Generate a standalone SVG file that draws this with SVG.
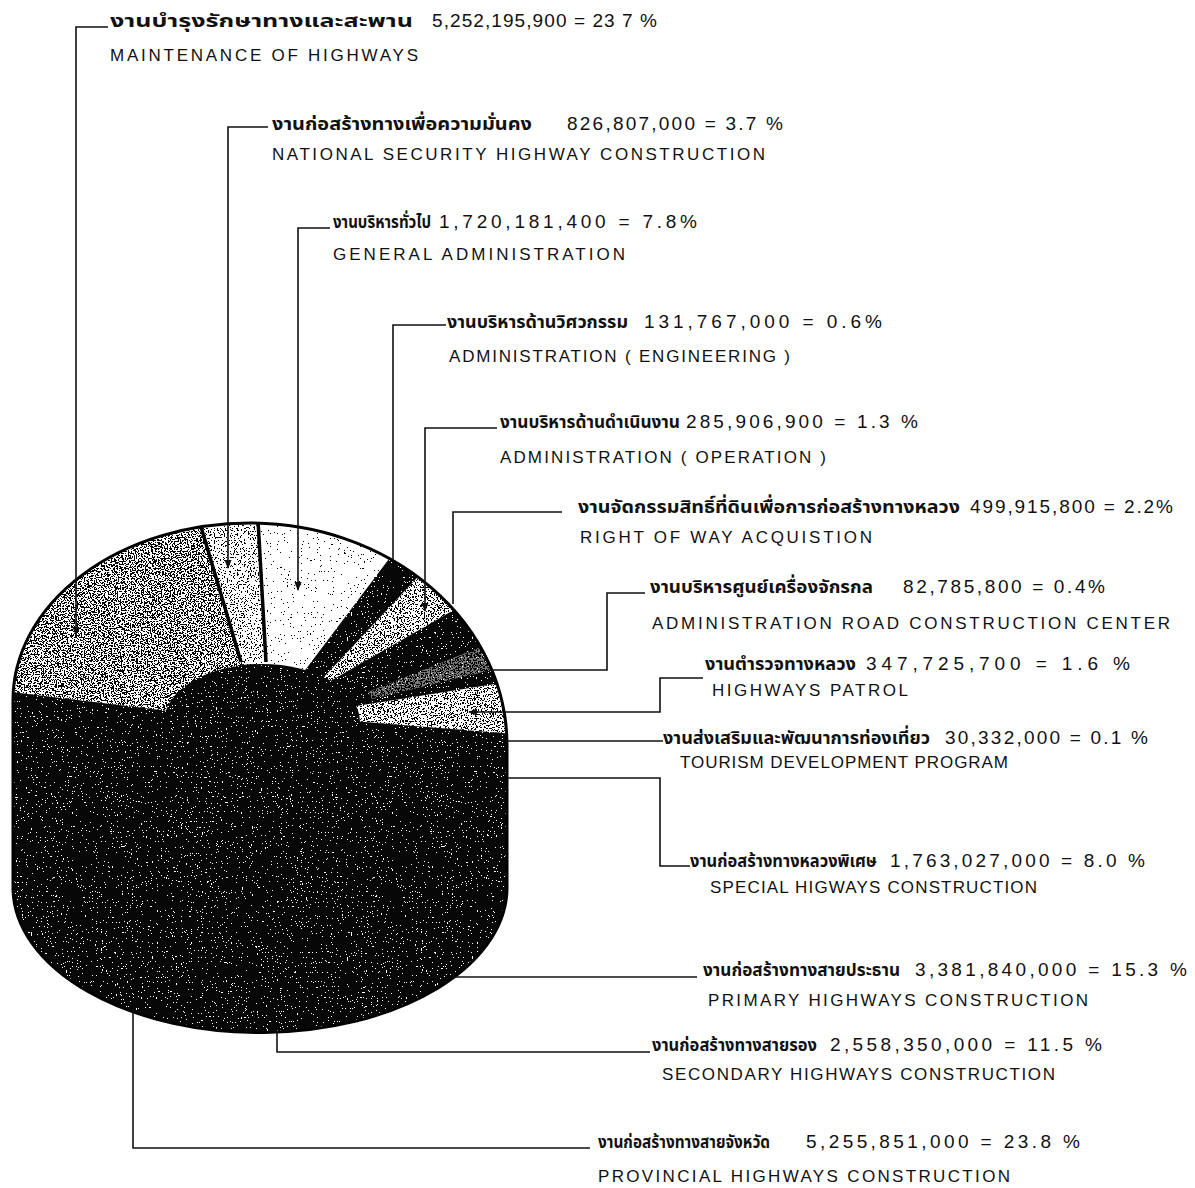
<svg xmlns="http://www.w3.org/2000/svg" width="1195" height="1188" viewBox="0 0 1195 1188">
  <style>
    .th { font-family: "Noto Sans Thai", "Noto Sans", "DejaVu Sans", sans-serif; font-size: 18px; font-weight: bold; fill: #111; }
    .num { font-family: "Liberation Sans", Arial, sans-serif; font-size: 19px; fill: #111; }
    .en { font-family: "Liberation Sans", Arial, sans-serif; font-size: 17px; fill: #111; }
    .lead { fill: none; stroke: #111; stroke-width: 1.6; }
    .sep { stroke: #000; stroke-width: 3.5; }
  </style>
  <defs>
    <!-- stipple screens: black dots of rising density, white specks for solid areas -->
    <filter id="dotsSparse" x="0" y="0" width="1" height="1" color-interpolation-filters="sRGB">
      <feTurbulence type="fractalNoise" baseFrequency="0.7" numOctaves="2" seed="3"/>
      <feColorMatrix type="matrix" values="0 0 0 0 0  0 0 0 0 0  0 0 0 0 0  -5 0 0 0 1.85"/>
      <feComponentTransfer><feFuncA type="discrete" tableValues="0 1"/></feComponentTransfer>
    </filter>
    <filter id="dotsLight" x="0" y="0" width="1" height="1" color-interpolation-filters="sRGB">
      <feTurbulence type="fractalNoise" baseFrequency="0.7" numOctaves="2" seed="5"/>
      <feColorMatrix type="matrix" values="0 0 0 0 0  0 0 0 0 0  0 0 0 0 0  -5 0 0 0 2.45"/>
      <feComponentTransfer><feFuncA type="discrete" tableValues="0 1"/></feComponentTransfer>
    </filter>
    <filter id="dotsMed" x="0" y="0" width="1" height="1" color-interpolation-filters="sRGB">
      <feTurbulence type="fractalNoise" baseFrequency="0.7" numOctaves="2" seed="9"/>
      <feColorMatrix type="matrix" values="0 0 0 0 0  0 0 0 0 0  0 0 0 0 0  -5 0 0 0 2.7"/>
      <feComponentTransfer><feFuncA type="discrete" tableValues="0 1"/></feComponentTransfer>
    </filter>
    <filter id="dotsHeavy" x="0" y="0" width="1" height="1" color-interpolation-filters="sRGB">
      <feTurbulence type="fractalNoise" baseFrequency="0.7" numOctaves="2" seed="11"/>
      <feColorMatrix type="matrix" values="0 0 0 0 0  0 0 0 0 0  0 0 0 0 0  -5 0 0 0 2.9"/>
      <feComponentTransfer><feFuncA type="discrete" tableValues="0 1"/></feComponentTransfer>
    </filter>
    <filter id="specks" x="0" y="0" width="1" height="1" color-interpolation-filters="sRGB">
      <feTurbulence type="fractalNoise" baseFrequency="0.8" numOctaves="2" seed="2"/>
      <feColorMatrix type="matrix" values="0 0 0 0 1  0 0 0 0 1  0 0 0 0 1  -5 0 0 0 1.95"/>
      <feComponentTransfer><feFuncA type="discrete" tableValues="0 1"/></feComponentTransfer>
    </filter>

    <path id="pieOutline" d="M13,700 A237,177 0 0 1 250,523 A257,222 0 0 1 507,745 L507,885 A247,145 0 0 1 13,890 Z"/>
    <clipPath id="clipPie"><use href="#pieOutline"/></clipPath>
    <clipPath id="clipMaint"><polygon points="260,722 -30,687 -30,470 183,470"/></clipPath>
    <clipPath id="clipSec"><polygon points="260,722 183,470 255,470 268,722"/></clipPath>
    <clipPath id="clipGen"><polygon points="268,722 255,470 456,470 266,722"/></clipPath>
    <clipPath id="clipOper"><polygon points="324,677 445,548 492,588 327,683"/></clipPath>
    <clipPath id="clipCenter"><polygon points="368,692 478,648 500,668 372,699"/></clipPath>
    <clipPath id="clipPatrol"><polygon points="350,707 495,684 515,684 515,734 502,733 352,721"/></clipPath>
    <clipPath id="clipHub"><ellipse cx="262" cy="722" rx="98" ry="58"/></clipPath>

    <marker id="arrow" viewBox="0 0 10 10" refX="9" refY="5" markerWidth="9" markerHeight="9" markerUnits="userSpaceOnUse" orient="auto">
      <path d="M0,1 L10,5 L0,9 Z" fill="#111"/>
    </marker>
  </defs>

  <rect width="1195" height="1188" fill="#fff"/>

  <!-- pie body: solid dark screen (provincial, secondary, primary, special and other dark slices) -->
  <g id="pie">
    <use href="#pieOutline" fill="#070707"/>
    <rect x="0" y="500" width="520" height="540" filter="url(#specks)" clip-path="url(#clipPie)"/>

    <g clip-path="url(#clipPie)">
      <g id="slice-maintenance" clip-path="url(#clipMaint)">
        <rect x="0" y="500" width="520" height="540" fill="#fff"/>
        <rect x="0" y="500" width="520" height="540" filter="url(#dotsHeavy)"/>
      </g>
      <g id="slice-security" clip-path="url(#clipSec)">
        <rect x="0" y="500" width="520" height="540" fill="#fff"/>
        <rect x="0" y="500" width="520" height="540" filter="url(#dotsLight)"/>
      </g>
      <g id="slice-general" clip-path="url(#clipGen)">
        <rect x="0" y="500" width="520" height="540" fill="#fff"/>
        <rect x="0" y="500" width="520" height="540" filter="url(#dotsSparse)"/>
      </g>
      <g id="slice-operation" clip-path="url(#clipOper)">
        <rect x="0" y="500" width="520" height="540" fill="#fff"/>
        <rect x="0" y="500" width="520" height="540" filter="url(#dotsMed)"/>
      </g>
      <g id="slice-roadcenter" clip-path="url(#clipCenter)" opacity="0.45">
        <rect x="0" y="500" width="520" height="540" fill="#fff"/>
        <rect x="0" y="500" width="520" height="540" filter="url(#dotsHeavy)"/>
      </g>
      <g id="slice-patrol" clip-path="url(#clipPatrol)">
        <rect x="0" y="500" width="520" height="540" fill="#fff"/>
        <rect x="0" y="500" width="520" height="540" filter="url(#dotsMed)"/>
      </g>
      <line class="sep" x1="241" y1="662" x2="199" y2="520"/>
      <line class="sep" x1="266" y1="662" x2="258" y2="520"/>
    </g>

    <!-- dark hub -->
    <g id="hub">
      <ellipse cx="262" cy="722" rx="98" ry="58" fill="#070707"/>
      <rect x="150" y="650" width="230" height="140" filter="url(#specks)" clip-path="url(#clipHub)"/>
    </g>

    <use href="#pieOutline" fill="none" stroke="#000" stroke-width="3"/>
  </g>

  <!-- leader lines -->
  <g id="connectors">
    <path class="lead" d="M108,27 H76 V635" marker-end="url(#arrow)"/>
    <path class="lead" d="M268,127 H228 V568" marker-end="url(#arrow)"/>
    <path class="lead" d="M330,228 H298 V590" marker-end="url(#arrow)"/>
    <path class="lead" d="M446,325 H393 V560"/>
    <path class="lead" d="M497,428 H425 V611" marker-end="url(#arrow)"/>
    <path class="lead" d="M562,512 H453 V604"/>
    <path class="lead" d="M645,593 H607 V670 H490"/>
    <path class="lead" d="M703,678 H660 V712 H469" marker-end="url(#arrow)"/>
    <path class="lead" d="M663,741 H506"/>
    <path class="lead" d="M690,866 H660 V778 H507"/>
    <path class="lead" d="M697,977 H452"/>
    <path class="lead" d="M650,1052 H277 V1031"/>
    <path class="lead" d="M590,1148 H133 V1010"/>
  </g>

  <!-- labels -->
  <g id="label-maintenance">
    <text class="th" x="110" y="27" textLength="303" lengthAdjust="spacingAndGlyphs">งานบำรุงรักษาทางและสะพาน</text>
    <text class="num" x="432" y="27" textLength="225" lengthAdjust="spacing">5,252,195,900 = 23 7 %</text>
    <text class="en" x="110" y="61" textLength="308" lengthAdjust="spacing">MAINTENANCE OF HIGHWAYS</text>
  </g>
  <g id="label-security">
    <text class="th" x="272" y="130" textLength="260" lengthAdjust="spacingAndGlyphs">งานก่อสร้างทางเพื่อความมั่นคง</text>
    <text class="num" x="567" y="130" textLength="216" lengthAdjust="spacing">826,807,000 = 3.7 %</text>
    <text class="en" x="272" y="160" textLength="493" lengthAdjust="spacing">NATIONAL SECURITY HIGHWAY CONSTRUCTION</text>
  </g>
  <g id="label-general">
    <text class="th" x="333" y="228" textLength="98" lengthAdjust="spacingAndGlyphs">งานบริหารทั่วไป</text>
    <text class="num" x="439" y="228" textLength="258" lengthAdjust="spacing">1,720,181,400 = 7.8%</text>
    <text class="en" x="333" y="260" textLength="292" lengthAdjust="spacing">GENERAL ADMINISTRATION</text>
  </g>
  <g id="label-engineering">
    <text class="th" x="447" y="328" textLength="181" lengthAdjust="spacingAndGlyphs">งานบริหารด้านวิศวกรรม</text>
    <text class="num" x="644" y="328" textLength="238" lengthAdjust="spacing">131,767,000 = 0.6%</text>
    <text class="en" x="449" y="362" textLength="341" lengthAdjust="spacing">ADMINISTRATION ( ENGINEERING )</text>
  </g>
  <g id="label-operation">
    <text class="th" x="500" y="428" textLength="180" lengthAdjust="spacingAndGlyphs">งานบริหารด้านดำเนินงาน</text>
    <text class="num" x="686" y="428" textLength="232" lengthAdjust="spacing">285,906,900 = 1.3 %</text>
    <text class="en" x="500" y="463" textLength="326" lengthAdjust="spacing">ADMINISTRATION ( OPERATION )</text>
  </g>
  <g id="label-rightofway">
    <text class="th" x="578" y="513" textLength="382" lengthAdjust="spacingAndGlyphs">งานจัดกรรมสิทธิ์ที่ดินเพื่อการก่อสร้างทางหลวง</text>
    <text class="num" x="970" y="513" textLength="203" lengthAdjust="spacing">499,915,800 = 2.2%</text>
    <text class="en" x="580" y="543" textLength="292" lengthAdjust="spacing">RIGHT OF WAY ACQUISTION</text>
  </g>
  <g id="label-roadcenter">
    <text class="th" x="650" y="593" textLength="223" lengthAdjust="spacingAndGlyphs">งานบริหารศูนย์เครื่องจักรกล</text>
    <text class="num" x="903" y="593" textLength="202" lengthAdjust="spacing">82,785,800 = 0.4%</text>
    <text class="en" x="652" y="629" textLength="518" lengthAdjust="spacing">ADMINISTRATION  ROAD  CONSTRUCTION  CENTER</text>
  </g>
  <g id="label-patrol">
    <text class="th" x="705" y="670" textLength="151" lengthAdjust="spacingAndGlyphs">งานตำรวจทางหลวง</text>
    <text class="num" x="866" y="670" textLength="264" lengthAdjust="spacing">347,725,700 = 1.6 %</text>
    <text class="en" x="712" y="696" textLength="196" lengthAdjust="spacing">HIGHWAYS  PATROL</text>
  </g>
  <g id="label-tourism">
    <text class="th" x="663" y="744" textLength="267" lengthAdjust="spacingAndGlyphs">งานส่งเสริมและพัฒนาการท่องเที่ยว</text>
    <text class="num" x="945" y="744" textLength="203" lengthAdjust="spacing">30,332,000 = 0.1 %</text>
    <text class="en" x="680" y="768" textLength="328" lengthAdjust="spacing">TOURISM  DEVELOPMENT  PROGRAM</text>
  </g>
  <g id="label-special">
    <text class="th" x="690" y="867" textLength="187" lengthAdjust="spacingAndGlyphs">งานก่อสร้างทางหลวงพิเศษ</text>
    <text class="num" x="890" y="867" textLength="255" lengthAdjust="spacing">1,763,027,000 = 8.0 %</text>
    <text class="en" x="710" y="893" textLength="327" lengthAdjust="spacing">SPECIAL  HIGWAYS  CONSTRUCTION</text>
  </g>
  <g id="label-primary">
    <text class="th" x="703" y="976" textLength="197" lengthAdjust="spacingAndGlyphs">งานก่อสร้างทางสายประธาน</text>
    <text class="num" x="915" y="976" textLength="272" lengthAdjust="spacing">3,381,840,000 = 15.3 %</text>
    <text class="en" x="708" y="1006" textLength="380" lengthAdjust="spacing">PRIMARY  HIGHWAYS  CONSTRUCTION</text>
  </g>
  <g id="label-secondary">
    <text class="th" x="652" y="1051" textLength="165" lengthAdjust="spacingAndGlyphs">งานก่อสร้างทางสายรอง</text>
    <text class="num" x="830" y="1051" textLength="272" lengthAdjust="spacing">2,558,350,000 = 11.5 %</text>
    <text class="en" x="662" y="1080" textLength="393" lengthAdjust="spacing">SECONDARY  HIGHWAYS  CONSTRUCTION</text>
  </g>
  <g id="label-provincial">
    <text class="th" x="598" y="1148" textLength="172" lengthAdjust="spacingAndGlyphs">งานก่อสร้างทางสายจังหวัด</text>
    <text class="num" x="806" y="1148" textLength="274" lengthAdjust="spacing">5,255,851,000 = 23.8 %</text>
    <text class="en" x="598" y="1182" textLength="412" lengthAdjust="spacing">PROVINCIAL  HIGHWAYS  CONSTRUCTION</text>
  </g>
</svg>
